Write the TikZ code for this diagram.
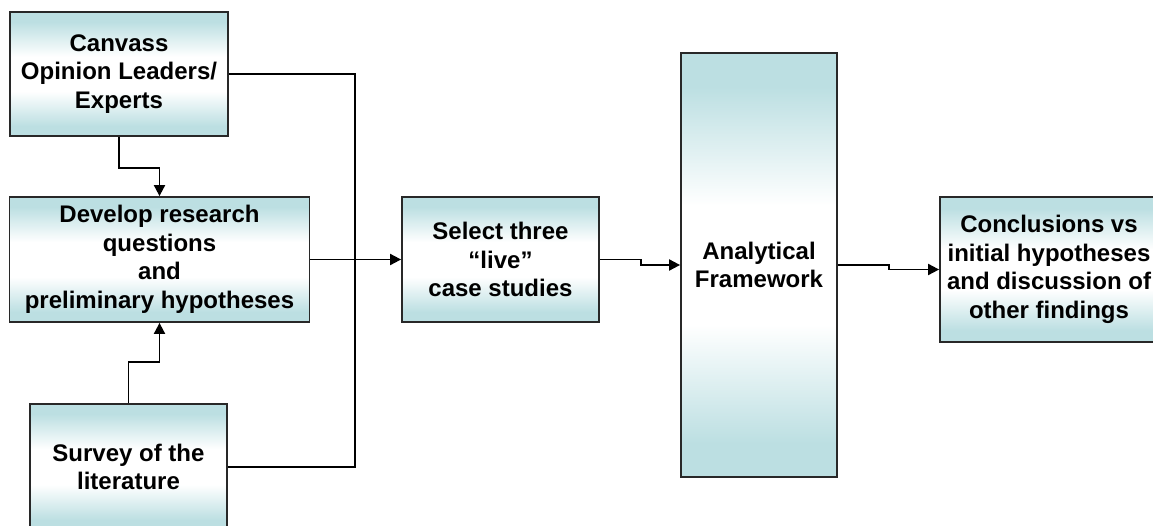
\documentclass[tikz,border=0pt]{standalone}
\usepackage{fontspec}
\setmainfont{Liberation Sans}
\usetikzlibrary{arrows.meta}
\definecolor{boxteal}{RGB}{188,223,226}
\definecolor{boxline}{RGB}{40,40,40}
\pgfdeclareverticalshading{boxshade}{100bp}{color(0bp)=(boxteal); color(29bp)=(boxteal); color(43bp)=(white); color(57bp)=(white); color(71bp)=(boxteal); color(100bp)=(boxteal)}
\tikzset{
  procbox/.style={draw=boxline, line width=1.8pt, shading=boxshade, inner sep=0pt, align=center,
    font=\fontsize{24}{28.5}\selectfont\bfseries},
  link/.style={draw=black, line width=1.9pt},
  arrowlink/.style={link, -{Triangle[length=11pt,width=11pt]}}
}
\begin{document}
\begin{tikzpicture}[x=1pt,y=-1pt]
\useasboundingbox (0,0) rectangle (1153,525);
\node[procbox, minimum width=218pt, minimum height=124pt] (can) at (119,74) {Canvass\\Opinion Leaders/\\Experts};
\node[procbox, minimum width=300pt, minimum height=125pt] (dev) at (159.5,259.5) {Develop research\\questions\\and\\preliminary hypotheses};
\node[procbox, minimum width=197pt, minimum height=126pt] (sur) at (128.5,467) {Survey of the\\literature};
\node[procbox, minimum width=197pt, minimum height=125pt] (sel) at (500.5,259.5) {Select three\\“live”\\case studies};
\node[procbox, minimum width=156pt, minimum height=424pt] (ana) at (759,265) {Analytical\\Framework};
\node[procbox, minimum width=218pt, minimum height=145pt] (con) at (1049,269.5) {Conclusions vs\\initial hypotheses\\and discussion of\\other findings};
\coordinate (j) at (355,74);
\draw[link] (can.east) -- (j) |- (sur.east);
\draw[arrowlink] (can.south) -- ++(0,31) -| (dev.north);
\draw[arrowlink] (sur.north) -- ++(0,-41) -| (dev.south);
\draw[arrowlink] (dev.east) -- (sel.west);
\draw[arrowlink] (sel.east) -- ++(41,0) |- (ana.west);
\draw[arrowlink] (ana.east) -- ++(51,0) |- (con.west);
\end{tikzpicture}
\end{document}
